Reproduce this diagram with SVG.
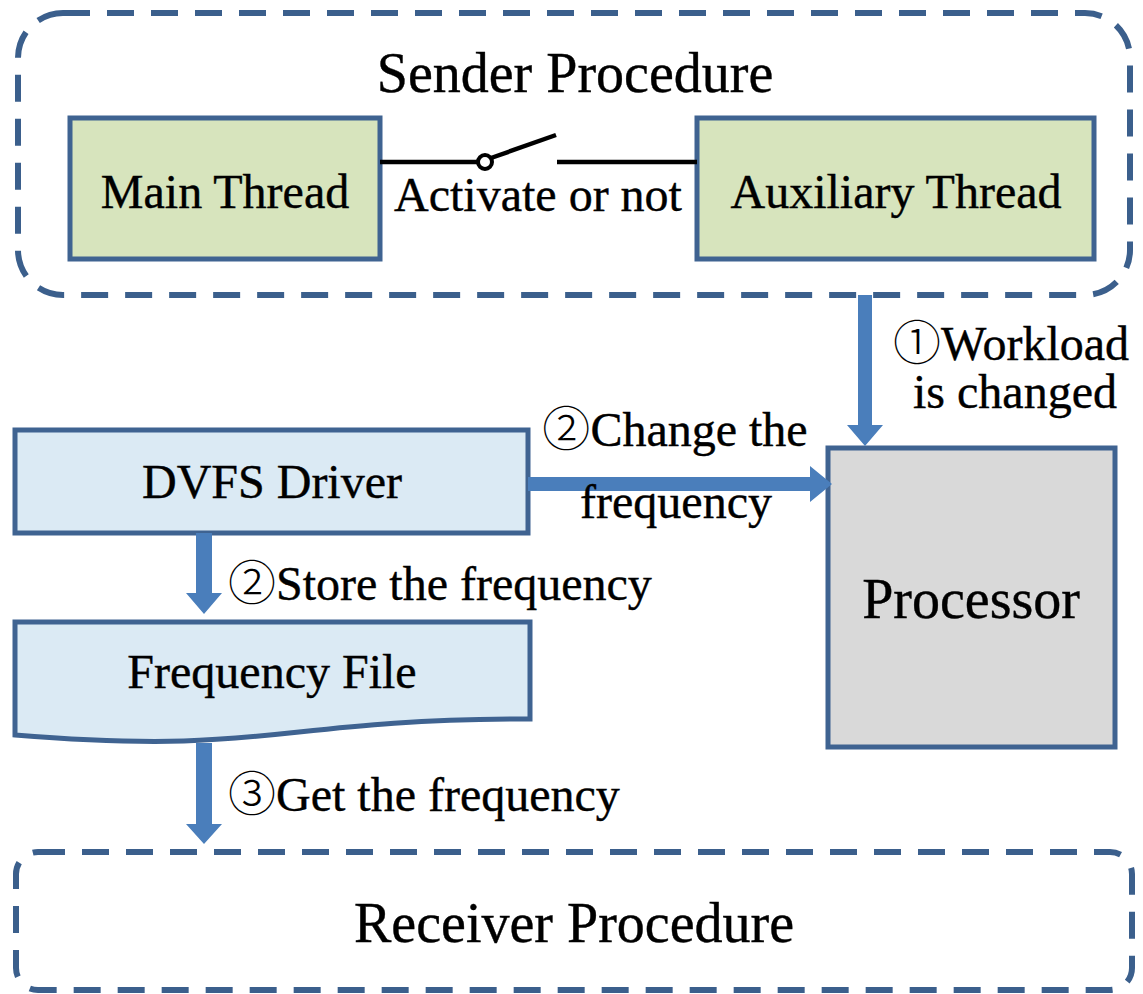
<svg xmlns="http://www.w3.org/2000/svg" width="1143" height="994" viewBox="0 0 1143 994">
  <style>
    .t { font-family: "Liberation Serif", "Noto Sans CJK JP", serif; fill: #000; font-size: 48px; stroke: #000; stroke-width: 0.4; }
    .big { font-size: 56px; }
    .c { font-family: "Noto Sans CJK JP", "DejaVu Sans", sans-serif; font-weight: 300; stroke-width: 0; }
    .dash { fill: none; stroke: #3b5f8c; stroke-width: 6; stroke-dasharray: 27 17; }
    .box { stroke: #3f6391; stroke-width: 5; }
    .green { fill: #d7e4bd; }
    .blue { fill: #dbeaf4; }
    .gray { fill: #d9d9d9; }
    .arrow { fill: #4a7ebb; }
    .wire { stroke: #000; stroke-width: 4.5; fill: none; }
  </style>

  <g id="sender">
    <rect class="dash" x="18" y="13" width="1112" height="282" rx="45"/>
    <text class="t big" x="575" y="92" text-anchor="middle">Sender Procedure</text>
  </g>

  <g id="main-thread">
    <rect class="box green" x="70" y="118" width="310" height="141"/>
    <text class="t" x="225" y="208" text-anchor="middle">Main Thread</text>
  </g>

  <g id="aux-thread">
    <rect class="box green" x="697" y="118" width="397" height="141"/>
    <text class="t" x="896" y="208" text-anchor="middle">Auxiliary Thread</text>
  </g>

  <g id="dvfs">
    <rect class="box blue" x="15" y="430" width="513" height="103"/>
    <text class="t" x="272" y="498" text-anchor="middle">DVFS Driver</text>
  </g>

  <g id="freq-file">
    <path class="box blue" d="M15,622 H530 V719 C272,719 272,756 15,735 Z"/>
    <text class="t" x="272" y="688" text-anchor="middle">Frequency File</text>
  </g>

  <g id="processor">
    <rect class="box gray" x="828" y="448" width="287" height="299"/>
    <text class="t big" x="971" y="618" text-anchor="middle">Processor</text>
  </g>

  <g id="receiver">
    <rect class="dash" x="16" y="852" width="1116" height="138" rx="22"/>
    <text class="t big" x="574" y="942" text-anchor="middle">Receiver Procedure</text>
  </g>

  <g id="connectors">
    <!-- switch -->
    <line class="wire" x1="380" y1="162" x2="478" y2="162"/>
    <circle cx="485" cy="162" r="7" fill="#fff" stroke="#000" stroke-width="4"/>
    <line class="wire" x1="491" y1="158" x2="556" y2="135"/>
    <line class="wire" x1="557" y1="162" x2="697" y2="162"/>
    <text class="t" x="538" y="211" text-anchor="middle">Activate or not</text>

    <!-- arrow 1 -->
    <path class="arrow" d="M858,295 H872 V425 H883 L865,446 L847,425 H858 Z"/>
    <text class="t" x="893" y="360"><tspan class="c">①</tspan>Workload</text>
    <text class="t" x="1015" y="408" text-anchor="middle">is changed</text>

    <!-- arrow 2 right -->
    <path class="arrow" d="M528,477 H810 V466 L832,484 L810,502 V491 H528 Z"/>
    <text class="t" x="675" y="446" text-anchor="middle"><tspan class="c">②</tspan>Change the</text>
    <text class="t" x="676" y="518" text-anchor="middle">frequency</text>

    <!-- arrow 2 down -->
    <path class="arrow" d="M196,533 H212 V593 H222 L204,614 L186,593 H196 Z"/>
    <text class="t" x="228" y="600"><tspan class="c">②</tspan>Store the frequency</text>

    <!-- arrow 3 down -->
    <path class="arrow" d="M196,743 H212 V824 H222 L204,844 L186,824 H196 Z"/>
    <text class="t" x="228" y="811"><tspan class="c">③</tspan>Get the frequency</text>
  </g>
</svg>
